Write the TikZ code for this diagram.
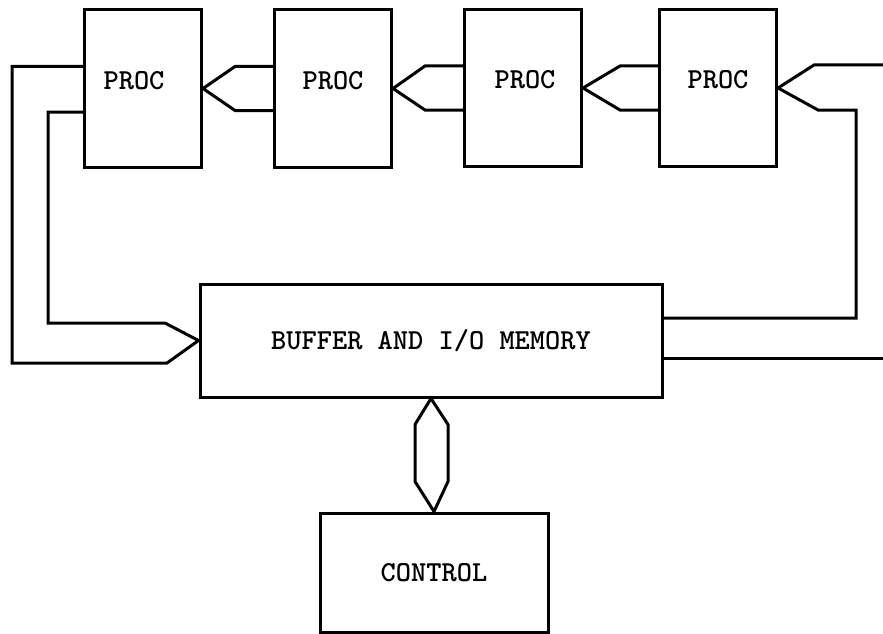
\documentclass[tikz,border=0pt]{standalone}
\usepackage{fontspec}
\usetikzlibrary{positioning,calc}

\begin{document}
\begin{tikzpicture}[x=1pt,y=-1pt,line width=3pt,
    box/.style={draw,minimum width=117pt,minimum height=157pt,inner sep=0pt},
    lbl/.style={font=\fontsize{29}{32}\selectfont\ttfamily\bfseries,inner sep=0pt}]
    \useasboundingbox (0,0) rectangle (883,634);
    \node[box] (P1) at (143,88.5) {};
    \node[box] (P2) at (333,88.5) {};
    \node[box] (P3) at (523,88) {};
    \node[box] (P4) at (718,88) {};
    \foreach \p/\dx in {P1/-9,P2/0,P3/2,P4/0}
        \node[lbl, below=61pt of \p.north, xshift=\dx pt] (T\p) {PROC};
    \node[box, lbl, minimum width=462pt, minimum height=113pt] (BUF) at (431,340.5) {BUFFER AND I/O MEMORY};
    \node[box, lbl, minimum width=228pt, minimum height=119pt] (CTL) at (434,572.5) {CONTROL};
    % buses between processors
    \foreach \a/\b in {P2/P1,P3/P2,P4/P3}
        \draw ($(\a.west)+(0,-22)$) -- ($(\a.west)+(-38,-22)$) -- (\b.east)
              -- ($(\a.west)+(-38,22)$) -- ($(\a.west)+(0,22)$);
    % bus into the last processor
    \coordinate (R1) at (883,65);
    \coordinate (R2) at (883,358);
    \draw (R1) -- ($(P4.east)+(36,-23)$) -- (P4.east) -- ($(P4.east)+(40,22)$)
          -|  (856,318) -- ($(BUF.east)+(0,-22.5)$);
    \draw ($(BUF.east)+(0,17.5)$) -- (R2);
    % loop back from the first processor
    \draw ($(P1.west)+(0,-22)$) -| (12,363) -- (167,363) -- (BUF.west)
          -- (165,323) -| (48,112) -- ($(P1.west)+(0,23.5)$);
    % control bus
    \draw (BUF.south) -- ($(BUF.south)+(-16,26)$) -- ($(BUF.south)+(-16,83)$) -- (CTL.north)
          -- ($(BUF.south)+(17,83)$) -- ($(BUF.south)+(17,26)$) -- cycle;
\end{tikzpicture}
\end{document}
